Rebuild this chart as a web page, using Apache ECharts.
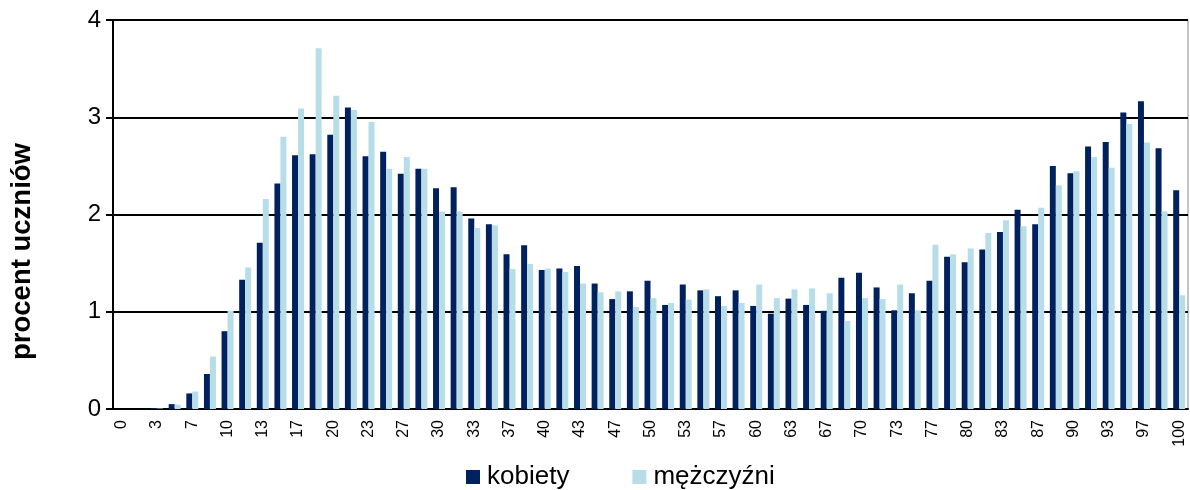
<!DOCTYPE html>
<html>
<head>
<meta charset="utf-8">
<script src="https://cdn.jsdelivr.net/npm/echarts@6/dist/echarts.min.js"></script>
<style>
html,body{margin:0;padding:0;background:#fff;}
#chart{width:1190px;height:490px;}
</style>
</head>
<body>
<div id="chart"></div>
<script>
var categories = ['0','2','3','5','7','8','10','12','13','15','17','18','20','22','23','25','27','28','30','32','33','35','37','38','40','42','43','45','47','48','50','52','53','55','57','58','60','62','63','65','67','68','70','72','73','75','77','78','80','82','83','85','87','88','90','92','93','95','97','98','100'];
var kobiety = [0, 0, 0.01, 0.05, 0.16, 0.36, 0.80, 1.33, 1.71, 2.32, 2.61, 2.62, 2.82, 3.10, 2.60, 2.645, 2.42, 2.47, 2.27, 2.28, 1.96, 1.90, 1.59, 1.685, 1.43, 1.445, 1.47, 1.29, 1.13, 1.21, 1.32, 1.07, 1.28, 1.22, 1.16, 1.22, 1.06, 0.98, 1.135, 1.07, 1.01, 1.35, 1.40, 1.25, 1.015, 1.19, 1.32, 1.565, 1.51, 1.64, 1.82, 2.05, 1.90, 2.50, 2.425, 2.70, 2.745, 3.05, 3.165, 2.68, 2.25];
var mezczyzni = [0, 0, 0.005, 0.045, 0.18, 0.54, 1.01, 1.455, 2.16, 2.80, 3.09, 3.71, 3.22, 3.075, 2.95, 2.47, 2.59, 2.47, 2.03, 2.03, 1.86, 1.89, 1.44, 1.49, 1.445, 1.41, 1.29, 1.20, 1.21, 1.05, 1.14, 1.09, 1.125, 1.23, 1.06, 1.09, 1.28, 1.14, 1.23, 1.24, 1.19, 0.905, 1.14, 1.13, 1.28, 1.015, 1.69, 1.59, 1.65, 1.81, 1.94, 1.88, 2.07, 2.30, 2.445, 2.59, 2.48, 2.93, 2.74, 2.03, 1.17];
var yTicks = [0, 1, 2, 3, 4];

var FONT = "'Liberation Sans', Arial, sans-serif";
var chart = echarts.init(document.getElementById('chart'), null, {renderer: 'canvas'});
chart.setOption({
  animation: false,
  backgroundColor: '#ffffff',
  textStyle: {fontFamily: FONT},
  grid: {left: 113, right: 2, top: 20, bottom: 81, show: true, borderColor: '#8a8a8a', borderWidth: 1},
  legend: {
    left: 466, top: 463, padding: 0,
    itemWidth: 14, itemHeight: 14, itemGap: 63,
    icon: 'rect',
    textStyle: {fontSize: 26, lineHeight: 28, color: '#000', fontFamily: FONT, padding: [0,0,0,2]},
    data: ['kobiety', 'mężczyźni']
  },
  xAxis: {
    type: 'category',
    data: categories,
    axisLine: {show: true, lineStyle: {color: '#000', width: 2}},
    axisTick: {show: false},
    axisLabel: {interval: 1, rotate: 90, fontSize: 16, color: '#000', margin: 11, fontFamily: FONT},
    splitLine: {show: false}
  },
  yAxis: {
    type: 'value',
    min: yTicks[0], max: yTicks[yTicks.length - 1], interval: 1,
    name: 'procent uczniów',
    nameLocation: 'middle',
    nameGap: 77,
    nameTextStyle: {fontSize: 27.5, fontWeight: 'bold', color: '#000', fontFamily: FONT, padding: [0, 74, 0, 0]},
    axisLine: {show: true, lineStyle: {color: '#000', width: 2}},
    axisTick: {show: true, length: 7, lineStyle: {color: '#000', width: 2}},
    axisLabel: {fontSize: 24, color: '#000', margin: 12, fontFamily: FONT},
    splitLine: {show: true, lineStyle: {color: '#000', width: 2}}
  },
  series: [
    {name: 'kobiety', type: 'bar', data: kobiety, barGap: '0%', barCategoryGap: '32%',
     itemStyle: {color: '#00215E'}},
    {name: 'mężczyźni', type: 'bar', data: mezczyzni, barGap: '0%', barCategoryGap: '32%',
     itemStyle: {color: '#B7DEE8'}}
  ]
});
</script>
</body>
</html>
